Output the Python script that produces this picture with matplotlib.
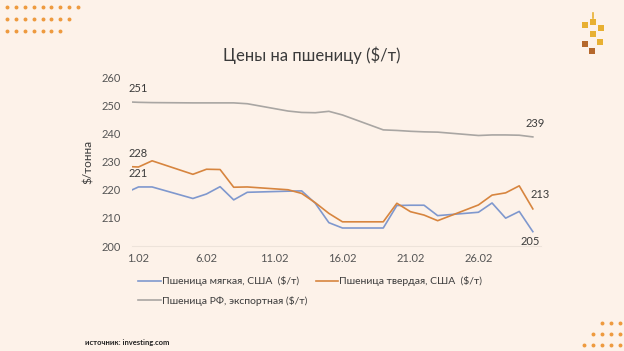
import matplotlib
matplotlib.use("Agg")
import matplotlib.pyplot as plt
from matplotlib.lines import Line2D
from matplotlib.patches import Rectangle

# ---- data ----
days = [0, 1, 2, 5, 6, 7, 8, 9, 12, 13, 14, 15, 16, 19, 20, 21, 22, 23, 26, 27, 28, 29, 30]
soft_us = [218.8, 221.0, 221.0, 216.9, 218.5, 221.1, 216.4, 219.1, 219.5, 219.6, 215.2, 208.3,
           206.4, 206.4, 214.4, 214.5, 214.5, 210.8, 212.0, 215.3, 209.9, 212.3, 205.1]
durum_us = [228.3, 228.1, 230.3, 225.5, 227.3, 227.2, 220.9, 221.0, 220.0, 218.7, 215.4, 211.6,
            208.6, 208.6, 215.2, 212.2, 211.0, 209.0, 214.6, 218.1, 218.9, 221.4, 213.2]
ru_export = [251.3, 251.1, 251.0, 250.9, 250.9, 250.9, 250.9, 250.6, 248.0, 247.5, 247.4, 247.9,
             246.6, 241.3, 241.1, 240.8, 240.6, 240.5, 239.3, 239.5, 239.5, 239.4, 238.8]
tick_days = [1, 6, 11, 16, 21, 26]
tick_labels = ["1.02", "6.02", "11.02", "16.02", "21.02", "26.02"]
y_ticks = [200, 210, 220, 230, 240, 250, 260]
series_names = ["Пшеница мягкая, США  ($/т)", "Пшеница твердая, США  ($/т)",
                "Пшеница РФ, экспортная ($/т)"]
title = "Цены на пшеницу ($/т)"
y_label = "$/тонна"
source = "источник: investing.com"

# ---- style ----
BG = "#FDF2E9"
C_BLUE = "#7F98CE"
C_ORANGE = "#D7853F"
C_GRAY = "#A9A6A3"
TXT = "#3B3B3B"
TICK = "#555555"
plt.rcParams["font.family"] = ["Lato", "DejaVu Sans"]

W, H = 624, 351
fig = plt.figure(figsize=(W / 100, H / 100), dpi=100, facecolor=BG)

left_px, right_px, top_px, bot_px = 131.7, 541.0, 77.3, 246.0
ax = fig.add_axes([left_px / W, 1 - bot_px / H, (right_px - left_px) / W, (bot_px - top_px) / H])
ax.set_facecolor(BG)

l1, = ax.plot(days, soft_us, color=C_BLUE, lw=1.2)
l2, = ax.plot(days, durum_us, color=C_ORANGE, lw=1.2)
l3, = ax.plot(days, ru_export, color=C_GRAY, lw=1.2)

ax.set_xlim(0.5, 30.6)
ax.set_ylim(200, 260)
ax.set_yticks(y_ticks)
ax.set_xticks(tick_days)
ax.set_xticklabels(tick_labels)
ax.tick_params(axis="both", length=0, labelsize=8, colors=TICK)
ax.tick_params(axis="y", pad=8)
ax.tick_params(axis="x", pad=5)
for s in ["top", "right", "left"]:
    ax.spines[s].set_visible(False)
ax.spines["bottom"].set_color("#EDE3DA")
ax.spines["bottom"].set_linewidth(0.8)
ax.set_ylabel(y_label, fontsize=8.5, color=TXT, labelpad=5)

# data labels at first and last points
lab_kw = dict(textcoords="offset points", fontsize=8, color=TXT, ha="center", va="center")
ax.annotate(f"{ru_export[1]:.0f}", xy=(days[1], ru_export[1]), xytext=(0, 10), **lab_kw)
ax.annotate(f"{durum_us[1]:.0f}", xy=(days[1], durum_us[1]), xytext=(0, 9.5), **lab_kw)
ax.annotate(f"{soft_us[1]:.0f}", xy=(days[1], soft_us[1]), xytext=(0, 9.5), **lab_kw)
ax.annotate(f"{ru_export[-1]:.0f}", xy=(days[-1], ru_export[-1]), xytext=(2, 9.5), **lab_kw)
ax.annotate(f"{durum_us[-1]:.0f}", xy=(days[-1], durum_us[-1]), xytext=(5, 10), **lab_kw)
ax.annotate(f"{soft_us[-1]:.0f}", xy=(days[-1], soft_us[-1]), xytext=(-2, -7), **lab_kw)

fig.text(0.5, 1 - 55 / H, title, ha="center", va="center", fontsize=12, color=TXT)

leg = fig.legend([l1, l3, l2], [series_names[0], series_names[2], series_names[1]],
                 ncol=2, loc="upper left", bbox_to_anchor=(129 / W, 1 - 267 / H),
                 frameon=False, fontsize=7.5, handlelength=2.2, handletextpad=0.1,
                 columnspacing=0.75, labelspacing=0.9, labelcolor=TXT)

fig.text(85 / W, 1 - 342 / H, source, ha="left", va="center", fontsize=5.5,
         fontweight="bold", color="#222222")

# ---- decorations (figure pixel overlay) ----
deco = fig.add_axes([0, 0, 1, 1], zorder=-1)
deco.set_xlim(0, W)
deco.set_ylim(H, 0)
deco.axis("off")
dot_c = "#EE9A3E"
rows_tl = [(7.3, 9), (19.3, 8), (31.0, 7)]
for y, n in rows_tl:
    deco.scatter([7.3 + 8.8 * i for i in range(n)], [y] * n, s=8, color=dot_c, lw=0)
rows_br = [(322.7, 3), (334.0, 4), (345.3, 5)]
for y, n in rows_br:
    deco.scatter([620 - 8.9 * i for i in range(n)], [y] * n, s=8, color=dot_c, lw=0)

gold, brown = "#E8B032", "#B5682C"
deco.plot([593, 593], [13, 18], color=gold, lw=1.2)
for cx, cy, c in [(593, 22, gold), (585, 25, gold), (601, 28, gold), (593, 34, gold),
                  (600, 42, gold), (585, 44, brown), (592, 51, brown)]:
    deco.add_patch(Rectangle((cx - 3, cy - 3), 6, 6, color=c, lw=0))

fig.savefig("out.png", dpi=100, facecolor=BG)
